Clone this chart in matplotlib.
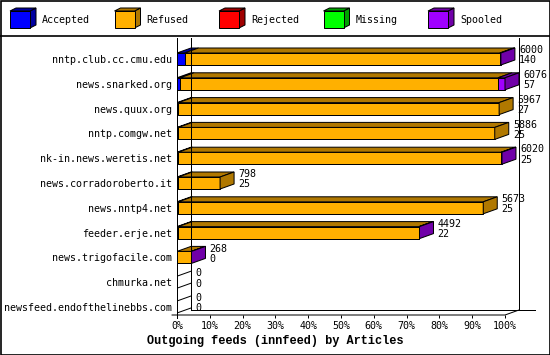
import numpy as np
import matplotlib
matplotlib.use('Agg')
import matplotlib.pyplot as plt
from matplotlib.patches import Polygon, Rectangle
from matplotlib.lines import Line2D

# --- data ---
hosts = ['nntp.club.cc.cmu.edu', 'news.snarked.org', 'news.quux.org',
         'nntp.comgw.net', 'nk-in.news.weretis.net', 'news.corradoroberto.it',
         'news.nntp4.net', 'feeder.erje.net', 'news.trigofacile.com',
         'chmurka.net', 'newsfeed.endofthelinebbs.com']
offered = [6000, 6076, 5967, 5886, 6020, 798, 5673, 4492, 268, 0, 0]
accepted = [140, 57, 27, 25, 25, 25, 25, 22, 0, 0, 0]
rejected = [0, 0, 0, 0, 0, 0, 0, 0, 0, 0, 0]
missing = [0, 0, 0, 0, 0, 0, 0, 0, 0, 0, 0]
spooled = [20, 130, 0, 0, 15, 0, 0, 10, 3, 0, 0]  # estimated from bar ends
refused = [o - a - r - m - s for o, a, r, m, s in
           zip(offered, accepted, rejected, missing, spooled)]

series = ['Accepted', 'Refused', 'Rejected', 'Missing', 'Spooled']
front_col = ['#0000ff', '#ffb000', '#ff0000', '#00ff00', '#a000ff']
dark_col = ['#0000a0', '#b07800', '#a00000', '#00a000', '#7000a8']

W, H = 550, 355
PX_PCT = 3.28      # pixels per percent
ROW = 24.8         # pixels per category
DX = 14 / PX_PCT   # depth in percent
DY = 5 / ROW       # depth in category units
BH = 12 / ROW      # bar thickness
LW = 0.72

fig = plt.figure(figsize=(W / 100, H / 100), dpi=100)
fig.patch.set_facecolor('white')
mono = 'DejaVu Sans Mono'

# plot axes, placed so that 0% sits at x=177px and rows start at y=59px
ax_l, ax_r, ax_t, ax_b = 177, 535, 36, 315
ax = fig.add_axes([ax_l / W, 1 - ax_b / H, (ax_r - ax_l) / W, (ax_b - ax_t) / H])
ax.set_xlim(0, (ax_r - ax_l) / PX_PCT)
ax.set_ylim((ax_b - 59) / ROW, (ax_t - 59) / ROW)
for s in ax.spines.values():
    s.set_visible(False)
ax.patch.set_alpha(0)

y_front = (ax_b - 59) / ROW
y_back = y_front - DY
y_top = (38 - 59) / ROW

# frame of the 3d plot area
frame = [([0, 0], [y_top, y_front + 0.12]),
         ([DX, DX], [y_top, y_back]),
         ([100 + DX, 100 + DX], [y_top, y_back]),
         ([DX, ax.get_xlim()[1]], [y_back, y_back]),
         ([-1.5, 100, 100 + DX], [y_front, y_front, y_back])]
for xs, ys in frame:
    ax.add_line(Line2D(xs, ys, color='black', lw=LW, clip_on=False))

total_max = max(offered)
segs = np.array([accepted, refused, rejected, missing, spooled], dtype=float)
for i, host in enumerate(hosts):
    top = i - BH / 2
    bot = i + BH / 2
    if offered[i] == 0:
        for yy in (top, bot):
            ax.add_line(Line2D([0, DX], [yy, yy - DY], color='black', lw=LW))
        xend = 0
    else:
        x0 = 0.0
        last = None
        for k in range(len(series)):
            w = segs[k, i] / total_max * 100
            if w <= 0:
                continue
            x1 = x0 + w
            ax.add_patch(Rectangle((x0, top), w, BH, facecolor=front_col[k],
                                   edgecolor='black', lw=LW))
            ax.add_patch(Polygon([(x0, top), (x0 + DX, top - DY), (x1 + DX, top - DY), (x1, top)],
                                 facecolor=dark_col[k], edgecolor='black', lw=LW))
            last = k
            x0 = x1
        ax.add_patch(Polygon([(x0, top), (x0 + DX, top - DY), (x0 + DX, bot - DY), (x0, bot)],
                             facecolor=dark_col[last], edgecolor='black', lw=LW))
        xend = x0
    ax.annotate(str(offered[i]), (xend + DX, i), xytext=(3, 6.3), textcoords='offset points',
                ha='left', va='center', fontsize=7.2, family=mono)
    ax.annotate(str(accepted[i]), (xend + DX, i), xytext=(3, -1.0), textcoords='offset points',
                ha='left', va='center', fontsize=7.2, family=mono)

ax.set_yticks(range(len(hosts)))
ax.set_yticklabels(hosts, family=mono, fontsize=7.2)
ax.tick_params(axis='y', length=0, pad=3.8)
ax.set_xticks(range(0, 101, 10))
ax.set_xticklabels([f'{v}%' for v in range(0, 101, 10)], family=mono, fontsize=7.2)
ax.tick_params(axis='x', direction='out', length=2.2, width=LW, pad=2)

fig.text(275 / W, 1 - 341 / H, 'Outgoing feeds (innfeed) by Articles',
         ha='center', va='center', fontsize=8.6, fontweight='bold', family='Liberation Mono')

# legend band
leg = fig.add_axes([0, 1 - 35 / H, 1, 35 / H])
leg.set_xlim(0, W)
leg.set_ylim(35, 0)
leg.axis('off')
for k, name in enumerate(series):
    x0 = 10 + 104.5 * k
    leg.add_patch(Polygon([(x0 + 20, 11), (x0 + 26, 8), (x0 + 26, 25), (x0 + 20, 28)],
                          facecolor=dark_col[k], edgecolor='black', lw=LW))
    leg.add_patch(Polygon([(x0, 11), (x0 + 6, 8), (x0 + 26, 8), (x0 + 20, 11)],
                          facecolor=dark_col[k], edgecolor='black', lw=LW))
    leg.add_patch(Rectangle((x0, 11), 20, 17, facecolor=front_col[k], edgecolor='black', lw=LW))
    leg.text(x0 + 32, 20, name, ha='left', va='center', fontsize=7.2, family=mono)

# borders
fig.add_artist(Rectangle((0.5 / W, 0.5 / H), 1 - 1 / W, 1 - 1 / H, transform=fig.transFigure,
                         fill=False, edgecolor='black', lw=1.2))
fig.add_artist(Line2D([0, 1], [1 - 35.5 / H, 1 - 35.5 / H], transform=fig.transFigure,
                      color='black', lw=1.2))

fig.savefig('out.png', dpi=100)
